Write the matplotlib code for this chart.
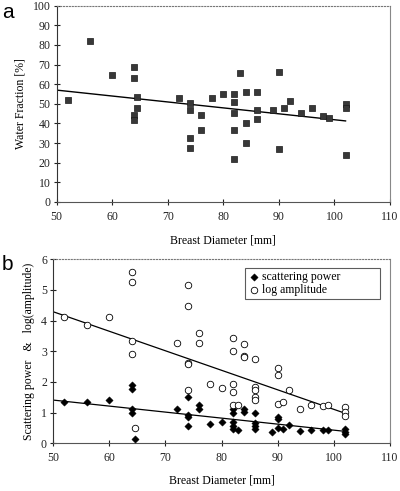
import matplotlib
matplotlib.use("Agg")
import matplotlib.pyplot as plt
import numpy as np

# ---- Panel a: water fraction ----
wf_x = [52, 56, 60, 64, 64, 64.5, 64.5, 64, 64, 72, 74, 74, 74, 74, 76, 76, 78, 80,
        82, 82, 82, 82, 82, 83, 84, 84, 84, 86, 86, 86, 89, 90, 90, 91, 92, 94, 96,
        98, 99, 102, 102, 102]
wf_y = [52.2, 82.1, 64.6, 68.9, 63.4, 53.6, 48.1, 44.4, 42.0, 53.2, 50.5, 46.8, 32.8,
        27.7, 44.2, 36.7, 53.1, 54.9, 54.9, 51.0, 45.1, 36.6, 21.8, 65.8, 55.8, 40.3,
        29.8, 55.8, 46.8, 42.5, 47.1, 66.0, 27.2, 48.1, 51.5, 45.4, 48.1, 43.7, 42.9,
        49.7, 48.1, 24.1]
wf_fit_x = [50, 102]
wf_fit_y = [57.0, 41.3]

# ---- Panel b: log amplitude ----
la_x = [52, 56, 60, 64, 64, 64, 64, 64.5, 72, 74, 74, 74, 74, 74, 76, 76, 78, 80,
        82, 82, 82, 82, 82, 83, 84, 84, 84, 86, 86, 86, 86, 86, 90, 90, 90, 91, 92,
        94, 96, 98, 99, 102, 102, 102]
la_y = [4.13, 3.87, 4.11, 5.57, 5.26, 3.32, 2.91, 0.51, 3.26, 5.15, 4.47, 2.63, 2.59,
        1.73, 3.61, 3.28, 1.95, 1.82, 3.43, 3.01, 1.93, 1.66, 1.26, 1.26, 3.23, 2.86,
        2.82, 2.75, 1.84, 1.73, 1.52, 1.42, 2.47, 2.24, 1.29, 1.34, 1.75, 1.12, 1.24,
        1.23, 1.26, 1.17, 1.03, 0.90]
la_fit_x = [50, 102]
la_fit_y = [4.29, 0.98]

# ---- Panel b: scattering power ----
sp_x = [52, 56, 60, 64, 64, 64, 64, 64.5, 72, 74, 74, 74, 74, 76, 76, 78, 80, 82, 82,
        82, 82, 82, 83, 84, 84, 86, 86, 86, 86, 89, 90, 90, 90, 91, 92, 94, 96, 98,
        99, 102, 102, 102]
sp_y = [1.35, 1.34, 1.41, 1.91, 1.77, 1.11, 0.98, 0.15, 1.13, 1.51, 0.92, 0.87, 0.55,
        1.24, 1.12, 0.64, 0.68, 1.12, 0.99, 0.68, 0.57, 0.47, 0.42, 1.13, 1.02, 0.98,
        0.65, 0.57, 0.48, 0.36, 0.87, 0.78, 0.49, 0.48, 0.61, 0.39, 0.43, 0.43, 0.42,
        0.46, 0.38, 0.32]
sp_fit_x = [50, 102]
sp_fit_y = [1.41, 0.39]

xticks = [50, 60, 70, 80, 90, 100, 110]

plt.rcParams['font.family'] = ['Liberation Serif', 'DejaVu Serif']

fig = plt.figure(figsize=(4.0, 4.91), dpi=100)
axa = fig.add_axes([0.1417, 0.5886, 0.975 - 0.1417, 0.9884 - 0.5886])
axb = fig.add_axes([0.133, 0.0971, 0.975 - 0.133, 0.4719 - 0.0971])


def style(ax):
    ax.set_xlim(50, 110)
    ax.set_xticks(xticks)
    ax.tick_params(direction='inout', length=5, width=0.8, labelsize=8.5,
                   colors='#222222')
    ax.tick_params(axis='x', pad=4)
    ax.tick_params(axis='y', pad=2)
    ax.spines['top'].set_linestyle(':')
    ax.spines['top'].set_color('#777777')
    ax.spines['top'].set_linewidth(0.8)
    ax.spines['right'].set_color('#888888')
    ax.spines['right'].set_linewidth(0.8)
    ax.spines['left'].set_color('#333333')
    ax.spines['left'].set_linewidth(0.8)
    ax.spines['bottom'].set_color('#555555')
    ax.spines['bottom'].set_linewidth(0.8)


# Panel a
style(axa)
axa.set_ylim(0, 100)
axa.set_yticks(range(0, 101, 10))
axa.scatter(wf_x, wf_y, marker='s', s=25, facecolor='#383838',
            edgecolor='#1a1a1a', linewidths=0.5, zorder=3)
axa.plot(wf_fit_x, wf_fit_y, color='black', lw=1.0, zorder=2)
axa.set_ylabel('Water Fraction [%]', fontsize=8.5, labelpad=4)
axa.set_xlabel('Breast Diameter [mm]', fontsize=8.5, labelpad=8)
fig.text(0.005, 0.975, 'a', fontsize=15, family='Liberation Sans',
         ha='left', va='center')

# Panel b
style(axb)
axb.set_ylim(0, 6)
axb.set_yticks(range(0, 7))
axb.scatter(sp_x, sp_y, marker='D', s=14, facecolor='black', edgecolor='black',
            linewidths=0.3, zorder=3, label='scattering power')
axb.scatter(la_x, la_y, marker='o', s=22, facecolor='white', edgecolor='black',
            linewidths=0.6, zorder=3, label='log amplitude')
axb.plot(sp_fit_x, sp_fit_y, color='black', lw=0.9, zorder=2)
axb.plot(la_fit_x, la_fit_y, color='black', lw=0.9, zorder=2)
axb.set_ylabel('Scattering power   &   log(amplitude)', fontsize=8.5, labelpad=4)
axb.set_xlabel('Breast Diameter [mm]', fontsize=8.5, labelpad=7)
leg = axb.legend(loc='upper left', bbox_to_anchor=(0.569, 0.811, 0.401, 0.142),
                 mode='expand', fontsize=8.5,
                 frameon=True, fancybox=False, edgecolor='#333333',
                 handletextpad=0.2, borderpad=0.25, labelspacing=0.1,
                 handlelength=1.0, borderaxespad=0)
leg.get_frame().set_linewidth(0.8)
fig.text(0.005, 0.462, 'b', fontsize=15, family='Liberation Sans',
         ha='left', va='center')

fig.savefig('out.png', dpi=100)
